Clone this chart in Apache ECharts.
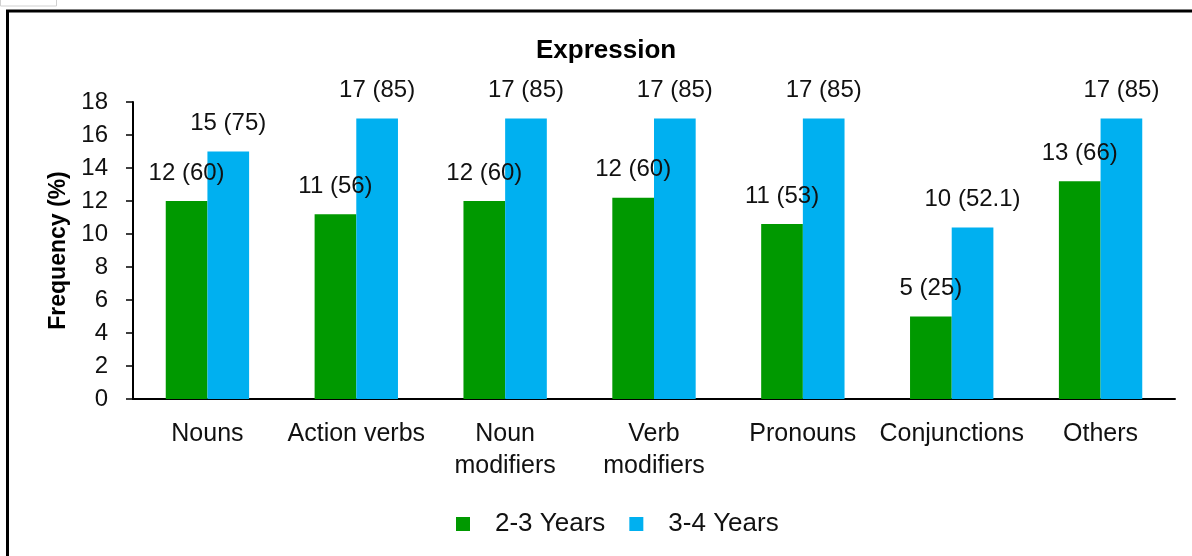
<!DOCTYPE html>
<html>
<head>
<meta charset="utf-8">
<script src="https://cdn.jsdelivr.net/npm/echarts@6/dist/echarts.min.js"></script>
<style>
  html, body { margin: 0; padding: 0; background: #fff; }
  #main { width: 1192px; height: 556px; }
</style>
</head>
<body>
<div id="main"></div>
<script>
var categories = ['Nouns', 'Action verbs', 'Noun\nmodifiers', 'Verb\nmodifiers', 'Pronouns', 'Conjunctions', 'Others'];
var seriesNames = ['2-3 Years', '3-4 Years'];
var young = [12, 11.2, 12, 12.2, 10.6, 5, 13.2];
var old = [15, 17, 17, 17, 17, 10.4, 17];
var youngLabels = ['12 (60)', '11 (56)', '12 (60)', '12 (60)', '11 (53)', '5 (25)', '13 (66)'];
var oldLabels = ['15 (75)', '17 (85)', '17 (85)', '17 (85)', '17 (85)', '10 (52.1)', '17 (85)'];
var yTicks = [0, 18, 2]; // min, max, step

var font = 'Liberation Sans, Arial, sans-serif';
var myChart = echarts.init(document.getElementById('main'));

var option = {
  backgroundColor: '#fff',
  textStyle: { fontFamily: font },
  title: {
    text: 'Expression',
    left: 531,
    top: 33,
    textStyle: { fontSize: 26, fontWeight: 'bold', color: '#000', fontFamily: font }
  },
  graphic: [
    // outer frame of the figure
    { type: 'rect', shape: { x: 7.5, y: 11, width: 1200, height: 600 },
      style: { fill: 'none', stroke: '#000', lineWidth: 3 }, silent: true },
    { type: 'rect', shape: { x: 0.5, y: -1, width: 56, height: 7 },
      style: { fill: 'none', stroke: '#d0d0d0', lineWidth: 1 }, silent: true }
  ],
  legend: {
    data: seriesNames,
    bottom: 14,
    left: 451,
    itemWidth: 14,
    itemHeight: 14,
    itemGap: 24,
    icon: 'rect',
    textStyle: { fontSize: 26, color: '#111', padding: [0, 0, 0, 20], fontFamily: font }
  },
  grid: { left: 133, right: 17, top: 102, bottom: 157 },
  xAxis: {
    type: 'category',
    data: categories,
    axisLine: { lineStyle: { color: '#000', width: 2 } },
    axisTick: { show: false },
    axisLabel: { fontSize: 25, color: '#111', margin: 19, lineHeight: 32, interval: 0 }
  },
  yAxis: {
    type: 'value',
    min: yTicks[0],
    max: yTicks[1],
    interval: yTicks[2],
    name: 'Frequency (%)',
    nameLocation: 'middle',
    nameGap: 60,
    nameTextStyle: { fontSize: 23, fontWeight: 'bold', color: '#000' },
    splitLine: { show: false },
    axisLine: { show: true, lineStyle: { color: '#000', width: 2 } },
    axisTick: { show: true, length: 7, lineStyle: { color: '#000', width: 1.5 } },
    axisLabel: { fontSize: 24, color: '#111', margin: 25 }
  },
  series: [
    {
      name: seriesNames[0],
      type: 'bar',
      data: young,
      barGap: '0%',
      barCategoryGap: '44%',
      itemStyle: { color: '#009900' },
      label: {
        show: true, position: 'top', distance: 16, fontSize: 24, color: '#111',
        formatter: function (p) { return youngLabels[p.dataIndex]; }
      }
    },
    {
      name: seriesNames[1],
      type: 'bar',
      data: old,
      barGap: '0%',
      barCategoryGap: '44%',
      itemStyle: { color: '#00B0F0' },
      label: {
        show: true, position: 'top', distance: 16, fontSize: 24, color: '#111',
        formatter: function (p) { return oldLabels[p.dataIndex]; }
      }
    }
  ]
};
myChart.setOption(option);
</script>
</body>
</html>
